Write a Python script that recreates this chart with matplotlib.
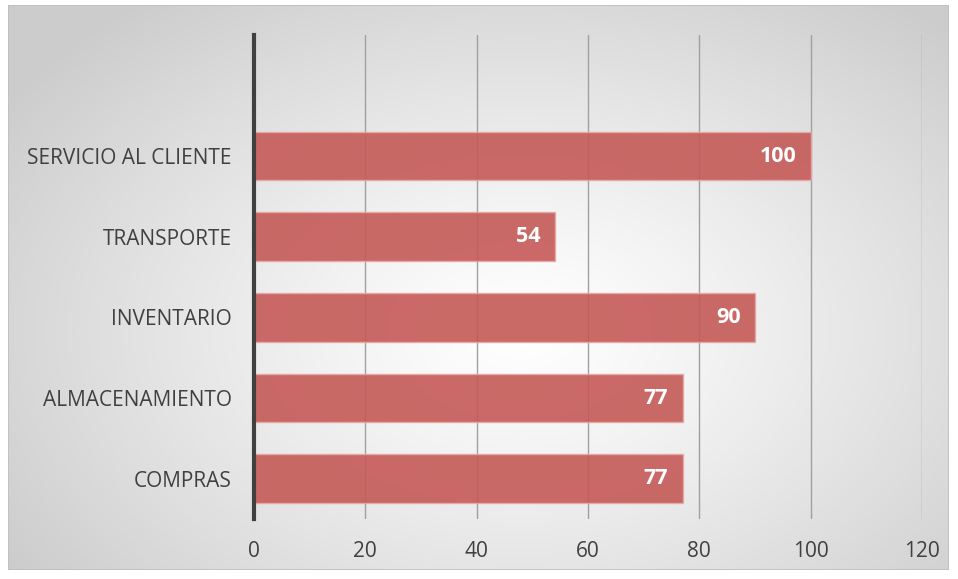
import numpy as np
import matplotlib
matplotlib.use("Agg")
import matplotlib.pyplot as plt
from matplotlib.patches import Rectangle

categories = ["COMPRAS", "ALMACENAMIENTO", "INVENTARIO", "TRANSPORTE", "SERVICIO AL CLIENTE"]
values = [77, 77, 90, 54, 100]
xticks = [0, 20, 40, 60, 80, 100, 120]

plt.rcParams['font.family'] = ['Open Sans', 'DejaVu Sans']

W, H = 958, 579
fig = plt.figure(figsize=(W/100, H/100), dpi=100)

# radial gradient background
bg = fig.add_axes([0, 0, 1, 1], zorder=-10)
yy, xx = np.mgrid[0:H, 0:W]
cx, cy = 520, 330
r = np.sqrt(((xx - cx) / 620.0) ** 2 + ((yy - cy) / 420.0) ** 2)
r = np.clip(r, 0, 1)
val = 1.0 - 0.20 * r ** 1.2
img = np.dstack([val, val, val])
bg.imshow(img, aspect='auto', extent=[0, W, H, 0])
bg.set_xlim(0, W); bg.set_ylim(H, 0)
bg.axis('off')
bg.add_patch(Rectangle((8, 5), 941, 565, fill=False, edgecolor='#BFBFBF', lw=1.2))
# white outside the border
bg.add_patch(Rectangle((0, 0), W, 5, color='white', lw=0))
bg.add_patch(Rectangle((0, 0), 8, H, color='white', lw=0))
bg.add_patch(Rectangle((949, 0), 9, H, color='white', lw=0))
bg.add_patch(Rectangle((0, 570), W, 9, color='white', lw=0))

ax = fig.add_axes([254/W, (H-519)/H, (922-254)/W, (519-35)/H])
ax.patch.set_alpha(0)
y = np.arange(len(categories))
ax.barh(y, values, height=0.6, color='#C55A57', alpha=0.9, edgecolor='#E8A8A6', linewidth=1, zorder=3)
for yi, v in zip(y, values):
    ax.text(v - 2.6, yi, str(v), ha='right', va='center', color='white',
            fontsize=15.5, fontweight='bold', zorder=4)

ax.set_xlim(0, 120)
ax.set_ylim(-0.5, 5.5)
ax.set_xticks(xticks)
ax.set_yticks(y)
ax.set_yticklabels(categories)
ax.grid(axis='x', color='#A0A0A0', linewidth=1, zorder=1)
for s in ['top', 'right', 'bottom']:
    ax.spines[s].set_visible(False)
ax.spines['left'].set_color('#404040')
ax.spines['left'].set_linewidth(3)
ax.spines['left'].set_zorder(5)
ax.tick_params(axis='both', length=0, labelsize=15, colors='#404040')
ax.tick_params(axis='x', pad=16)
ax.tick_params(axis='y', pad=16)

fig.savefig('out.png', dpi=100)
